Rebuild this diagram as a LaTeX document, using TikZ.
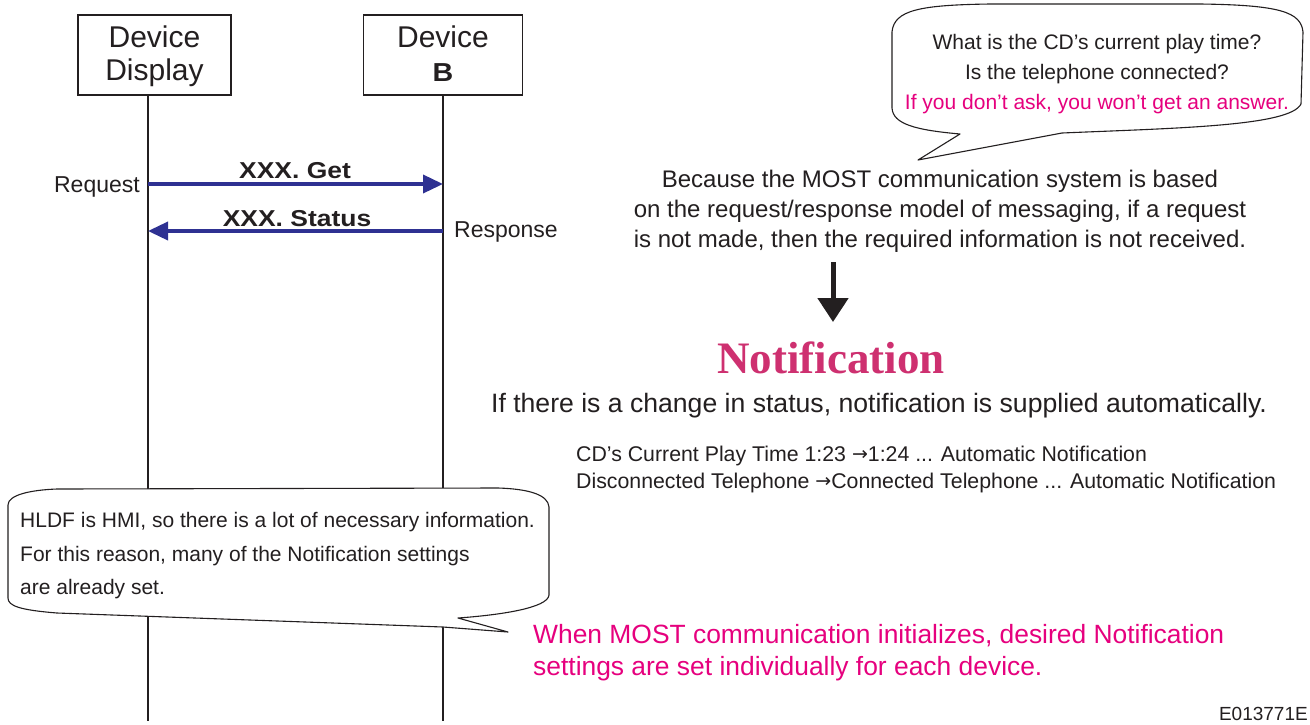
\documentclass[tikz,border=0pt]{standalone}
\usepackage{fontspec}
\setmainfont{Liberation Sans}
\newfontfamily\notiffont{Liberation Serif}
\newfontfamily\symfont{DejaVu Sans}
\usetikzlibrary{arrows.meta}
\definecolor{ink}{RGB}{35,31,32}
\definecolor{msgblue}{RGB}{46,49,146}
\definecolor{hot}{RGB}{230,0,126}
\definecolor{notif}{RGB}{206,48,112}
\newcommand{\fs}[2]{\fontsize{#1}{#2}\selectfont}
\newcommand{\rarr}{{\symfont\fs{19}{19}\raisebox{0.5pt}{→}}}
\begin{document}
\begin{tikzpicture}[x=1pt,y=-1pt,
  every node/.style={inner sep=0pt, text=ink},
  devbox/.style={draw=ink, line width=1.3pt, minimum width=153pt, minimum height=80pt},
  lifeline/.style={draw=ink, line width=1.1pt},
  msg/.style={draw=msgblue, line width=3.6pt, -{Triangle[length=20pt,width=18pt]}},
  bubble/.style={draw=ink, line width=1.1pt, fill=white, line join=round},
  big/.style={font=\fs{30}{33}},
  msglabel/.style={font=\fs{23}{26}\bfseries, anchor=base},
  side/.style={font=\fs{23}{26}, anchor=base},
  bubtext/.style={font=\fs{21}{24}, anchor=base},
  para/.style={font=\fs{24}{28}, anchor=base},
  small/.style={font=\fs{21.3}{24}, anchor=base west},
  pink/.style={text=hot},
  bigarrow/.style={draw=ink, line width=5pt, -{Triangle[length=24pt,width=30pt]}}
]
\useasboundingbox (0,0) rectangle (1310,724);
\fill[white] (0,0) rectangle (1310,724);

% device boxes
\node[devbox] (d1) at (154.5,55) {};
\node[devbox, minimum width=159pt] (d2) at (443,55) {};
\node[big, anchor=base] (d1a) at (154.5,47) {Device};
\node[big, anchor=base] (d1b) at (154.5,80) {Display};
\node[big, anchor=base] (d2a) at (443,47) {Device};
\node[font=\fs{26}{28}\bfseries, anchor=base] (d2b) at (443,81) {\scalebox{1.1}[1]{B}};

% lifelines
\coordinate (l1top) at (148,95);
\coordinate (l1bot) at (148,721);
\coordinate (l2top) at (443,95);
\coordinate (l2bot) at (443,721);
\draw[lifeline] (l1top) -- (l1bot);
\draw[lifeline] (l2top) -- (l2bot);

% messages
\coordinate (getA) at (148,184);
\coordinate (getB) at (443,184);
\coordinate (stA) at (443,231);
\coordinate (stB) at (148,231);
\draw[msg] (getA) -- (getB);
\draw[msg] (stA) -- (stB);
\node[msglabel] (getlab) at (295,178) {\scalebox{1.15}[1]{XXX. Get}};
\node[msglabel] (stlab) at (297,226) {\scalebox{1.15}[1]{XXX. Status}};
\node[side, anchor=base east] (req) at (140,192) {Request};
\node[side, anchor=base west] (resp) at (454,237) {Response};

% top-right bubble
\draw[bubble] (960,134) -- (918,160) -- (1062,133)
  .. controls (1180,128) and (1290,126) .. (1301,104)
  -- (1303,32) .. controls (1301,12) and (1280,5) .. (1200,4)
  -- (990,4) .. controls (920,5) and (894,10) .. (892,32)
  -- (892,108) .. controls (893,124) and (915,130) .. (960,134) -- cycle;
\node[bubtext] (q1) at (1097,49) {What is the CD’s current play time?};
\node[bubtext] (q2) at (1097,79) {Is the telephone connected?};
\node[bubtext, pink] (q3) at (1097,109) {If you don’t ask, you won’t get an answer.};

% paragraph
\node[para] (p1) at (940,187) {Because the MOST communication system is based};
\node[para] (p2) at (940,217) {on the request/response model of messaging, if a request};
\node[para] (p3) at (940,247) {is not made, then the required information is not received.};

% big down arrow
\coordinate (ar1) at (833,262);
\coordinate (ar2) at (833,322);
\draw[bigarrow] (ar1) -- (ar2);

\node[font=\notiffont\fs{45}{48}\bfseries, text=notif, anchor=base] (notif) at (831,373) {Notification};
\node[font=\fs{26.6}{30}, anchor=base] (chg) at (879,412) {If there is a change in status, notification is supplied automatically.};
\node[small] (ex1) at (576,461) {CD’s Current Play Time 1:23 \rarr1:24 ... Automatic Notification};
\node[small] (ex2) at (576,488) {Disconnected Telephone \rarr Connected Telephone ... Automatic Notification};

% bottom-left bubble
\draw[bubble] (458,618) -- (508,632) -- (443,627) -- (57,613)
  .. controls (20,610) and (8,606) .. (8,598)
  -- (8,505) .. controls (8,495) and (30,490) .. (57,489)
  -- (498,488) .. controls (530,489) and (548,495) .. (549,507)
  -- (549,595) .. controls (548,608) and (500,615) .. (458,618) -- cycle;
\node[bubtext, anchor=base west] (h1) at (20,527) {HLDF is HMI, so there is a lot of necessary information.};
\node[bubtext, anchor=base west] (h2) at (20,561) {For this reason, many of the Notification settings};
\node[bubtext, anchor=base west] (h3) at (20,594) {are already set.};

\node[font=\fs{26.4}{30}, pink, anchor=base west] (w1) at (533,643) {When MOST communication initializes, desired Notification};
\node[font=\fs{26.4}{30}, pink, anchor=base west] (w2) at (533,675) {settings are set individually for each device.};

\node[font=\fs{19}{22}, anchor=base east] (code) at (1308,720) {E013771E};
\end{tikzpicture}
\end{document}
